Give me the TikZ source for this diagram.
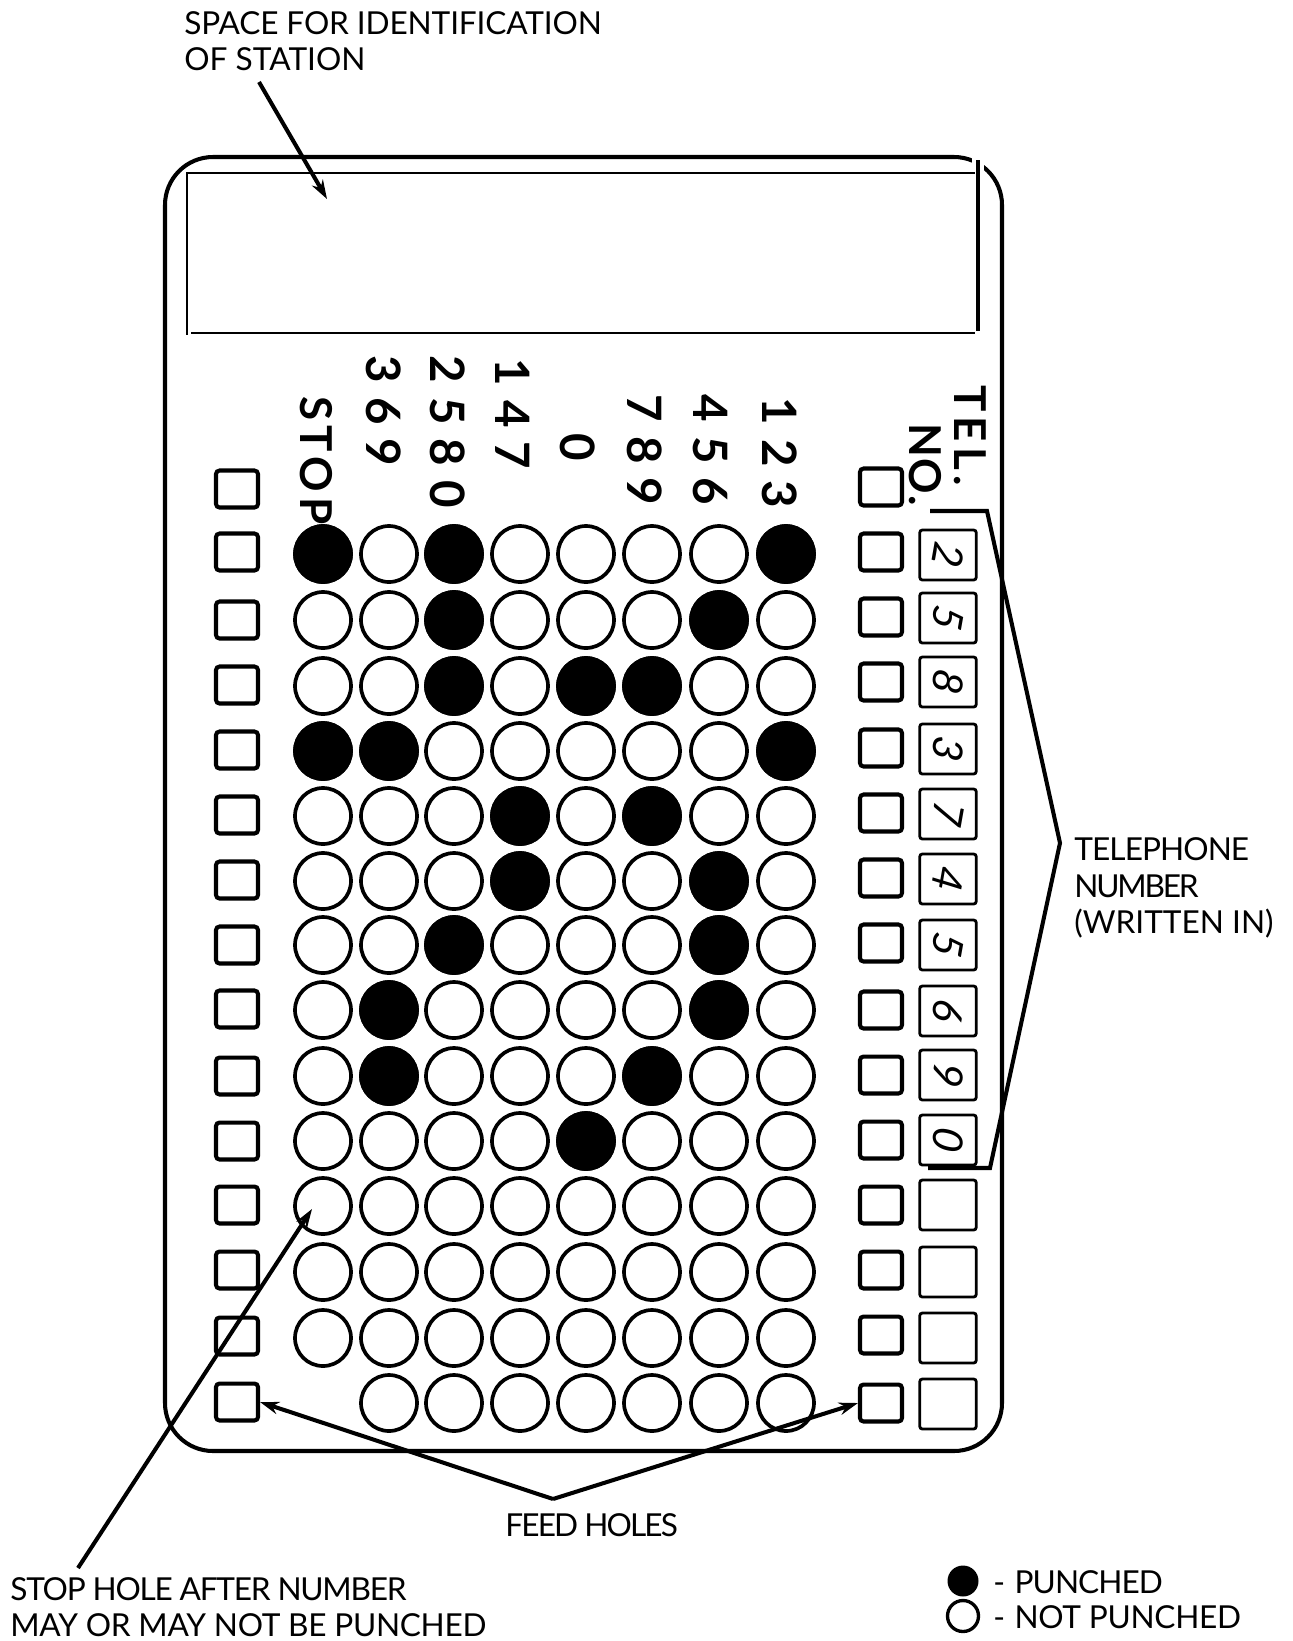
\documentclass[tikz,border=0pt]{standalone}
\usepackage{fontspec}
\setmainfont{Lato}
\usetikzlibrary{arrows.meta}
\newcommand{\tight}[2]{{\addfontfeature{LetterSpace=#1}#2}}
\tikzset{
  hole/.style={draw=black,line width=2.1pt,circle,inner sep=0pt,minimum size=1.12cm},
  punched/.style={hole,fill=black},
  feedbox/.style={draw=black,line width=2.3pt,rounded corners=2pt,inner sep=0pt,minimum width=.84cm,minimum height=.74cm},
  writebox/.style={draw=black,line width=1.6pt,rounded corners=1.5pt,inner sep=0pt,minimum width=1.13cm,minimum height=1cm},
  caption/.style={font=\fontsize{18}{20.8}\selectfont,align=left,anchor=west,inner sep=0pt},
  headword/.style={font=\fontsize{25}{25}\selectfont\bfseries\addfontfeature{LetterSpace=12},rotate=-90,anchor=west,inner sep=0pt},
  headdigits/.style={font=\fontsize{27}{27}\selectfont\bfseries\addfontfeature{LetterSpace=30},rotate=-90,anchor=west,inner sep=0pt},
  handdigit/.style={font=\fontsize{24}{24}\selectfont\itshape,rotate=-100,inner sep=0pt},
  legendmark/.style={circle,inner sep=0pt,minimum size=.62cm,line width=1.9pt},
  leader/.style={draw=black,line width=2.3pt},
  pointer/.style={leader,-{Stealth[length=.38cm,width=.25cm]}}
}
\begin{document}
\begin{tikzpicture}[x=0.02cm,y=-0.02cm]
  \useasboundingbox (0,0) rectangle (1293,1641);

  % Card outline and the station space
  \draw[line width=2.3pt,rounded corners=.96cm] (165,157) rectangle (1002,1451);
  \draw[white,line width=7pt] (978,152) -- (978,172);
  \draw[line width=1.6pt] (975,173) -- (187,173) -- (187,335);
  \draw[line width=1.6pt] (191,333) -- (975,333);
  \draw[line width=1.9pt] (978,160) -- (978,331);

  % Holes, row by row
  \foreach \y [count=\r] in {554,620,686,751,816,881,945,1010,1076,1141,1206,1272,1338}
    \foreach \x [count=\c] in {323,389,454,520,586,652,719,786}
      \node[hole] (h\r-\c) at (\x,\y) {};
  \foreach \x [count=\c from 2] in {389,454,520,586,652,719,786}
    \node[hole] (h14-\c) at (\x,1403) {};

  % Punched ones
  \foreach \r/\c in {1/1,1/3,1/8,2/3,2/7,3/3,3/5,3/6,4/1,4/2,4/8,5/4,5/6,6/4,6/7,7/3,7/7,8/2,8/7,9/2,9/6,10/5}
    \node[punched] (p\r-\c) at (h\r-\c) {};

  % Feed holes, left and right
  \foreach \y [count=\r] in {489,552,620,685,750,815,880,945,1009,1076,1141,1205,1270,1336,1402}
    \node[feedbox] (fl\r) at (237,\y) {};
  \foreach \y [count=\r] in {487,552,617,682,748,813,878,943,1010,1075,1140,1205,1270,1335,1403}
    \node[feedbox] (fr\r) at (881,\y) {};

  % Telephone number boxes
  \foreach \y [count=\r] in {555,618,682,749,814,879,945,1011,1075,1140,1205,1272,1338,1404}
    \node[writebox] (w\r) at (948,\y) {};
  \foreach \d [count=\r] in {2,5,8,3,7,4,5,6,9,0}
    \node[handdigit] (d\r) at (w\r) {\d};

  % Column heads
  \node[headword] (stop) at (316,396) {STOP};
  \node[headdigits] (c369) at (384,355) {369};
  \node[headdigits] (c2580) at (448,355) {2580};
  \node[headdigits] (c147) at (513,358) {147};
  \node[headdigits] (c0) at (578,433) {0};
  \node[headdigits] (c789) at (645,394) {789};
  \node[headdigits] (c456) at (710,394) {456};
  \node[headdigits] (c123) at (780,397) {123};
  \node[headword] (tel) at (970,385) {TEL.};
  \node[headword] (no) at (925,423) {\tight{4}{NO.}};

  % Texts round the card
  \node[caption] (station) at (184,41) {\tight{-.5}{SPACE FOR IDENTIFICATION}\\OF STATION};
  \node[caption] (telno) at (1074,888) {\tight{-3}{TELEPHONE}\\\tight{-7}{NUMBER}\\(WRITTEN IN)};
  \node[caption] (feed) at (505,1525) {\tight{-6}{FEED HOLES}};
  \node[caption] (stophole) at (10,1607) {\tight{-4}{STOP HOLE AFTER NUMBER}\\\tight{-1}{MAY OR MAY NOT BE PUNCHED}};
  \node[caption] (lgpunch) at (993,1582) {-\hspace{.3em}\tight{-3}{PUNCHED}};
  \node[caption] (lgopen) at (993,1617) {-\hspace{.3em}\tight{-1}{NOT PUNCHED}};
  \node[legendmark,fill=black] (lgfull) at (963,1581) {};
  \node[legendmark,draw=black] (lgring) at (963,1616) {};

  % Arrows
  \coordinate (stationtip) at (327,199);
  \coordinate (stationtail) at (259,82);
  \draw[pointer] (stationtail) -- (stationtip);
  \coordinate (stoptail) at (78,1568);
  \coordinate (stoptip) at (312,1209);
  \draw[pointer] (stoptail) -- (stoptip);
  \coordinate (feedjoin) at (553,1499);
  \draw[pointer] (feedjoin) -- (fl15.east);
  \draw[pointer] (feedjoin) -- (fr15.west);

  % Bracket to the written number
  \coordinate (brtop) at (930,511);
  \coordinate (brapex) at (1060,843);
  \coordinate (brbottom) at (928,1168);
  \draw[leader,line join=miter] (brtop) -- (987,511) -- (brapex) -- (990,1168) -- (brbottom);
\end{tikzpicture}
\end{document}
